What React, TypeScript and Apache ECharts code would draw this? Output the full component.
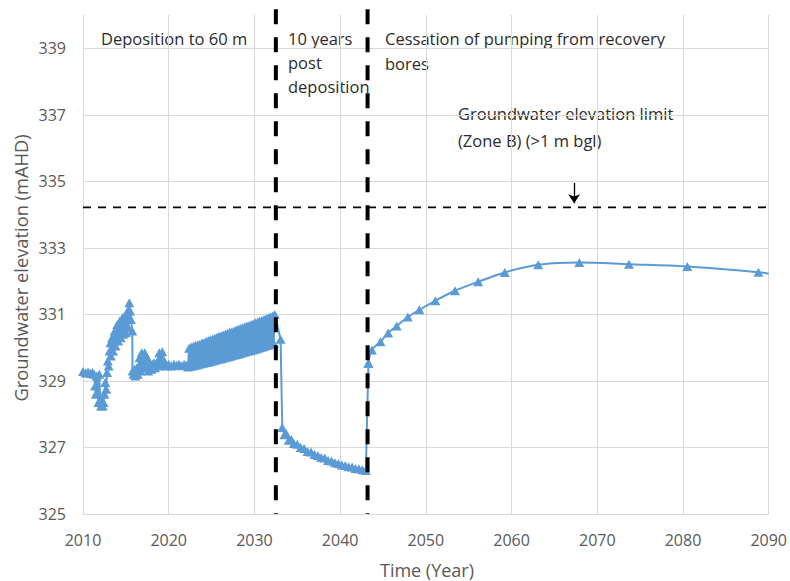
import React, { useEffect, useRef } from "react";
import * as echarts from "echarts";

type Pt = [number, number];

// Groundwater elevation (mAHD) against time (year)
const depositionPhase: Pt[] = [
  [2010.0, 329.28], [2010.3, 329.24], [2010.6, 329.27], [2010.9, 329.22], [2011.1, 329.26], [2011.3, 329.2],
  [2011.4, 328.85], [2011.5, 328.6], [2011.6, 329.15], [2011.7, 328.7], [2011.8, 328.35], [2011.9, 329.2],
  [2012.0, 328.45], [2012.1, 328.25], [2012.2, 328.4], [2012.3, 328.25], [2012.4, 328.35], [2012.5, 328.6],
  [2012.6, 328.95], [2012.7, 328.75], [2012.8, 329.25], [2012.9, 329.6], [2013.0, 329.45], [2013.1, 329.9],
  [2013.2, 330.15], [2013.25, 329.75], [2013.3, 329.95], [2013.4, 330.3], [2013.5, 329.9], [2013.6, 330.1],
  [2013.7, 330.5], [2013.8, 330.05], [2013.9, 330.3], [2014.0, 330.7], [2014.1, 330.2], [2014.2, 330.45],
  [2014.3, 330.8], [2014.4, 330.3], [2014.5, 330.55], [2014.6, 330.9], [2014.7, 330.4], [2014.8, 330.6],
  [2014.9, 330.95], [2015.0, 330.45], [2015.1, 330.7], [2015.2, 331.1], [2015.3, 330.6], [2015.4, 331.35],
  [2015.5, 331.1], [2015.6, 330.85], [2015.75, 330.5],
];

const holdPhase: Pt[] = [
  [2015.78, 329.3], [2015.9, 329.2], [2016.0, 329.35], [2016.1, 329.15], [2016.2, 329.3], [2016.3, 329.4],
  [2016.4, 329.2], [2016.5, 329.45], [2016.6, 329.7], [2016.7, 329.3], [2016.75, 329.5], [2016.85, 329.85],
  [2016.95, 329.4], [2017.05, 329.6], [2017.2, 329.85], [2017.3, 329.4], [2017.4, 329.55], [2017.5, 329.7],
  [2017.6, 329.3], [2017.7, 329.45], [2017.9, 329.5], [2018.0, 329.35], [2018.1, 329.5], [2018.3, 329.55],
  [2018.4, 329.4], [2018.5, 329.5], [2018.7, 329.6], [2018.8, 329.45], [2018.9, 329.85], [2019.0, 329.5],
  [2019.1, 329.7], [2019.25, 329.88], [2019.35, 329.5], [2019.5, 329.6], [2019.7, 329.45], [2020.0, 329.5],
  [2020.3, 329.45], [2020.6, 329.5], [2020.9, 329.47], [2021.2, 329.5], [2021.5, 329.46], [2021.8, 329.5],
  [2022.05, 329.48],
];

const raisePhase: Pt[] = [
  [2022.25, 329.42], [2022.375, 329.98], [2022.5, 329.44], [2022.625, 330.02], [2022.75, 329.45], [2022.875, 330.04],
  [2023.0, 329.47], [2023.125, 330.07], [2023.25, 329.48], [2023.375, 330.09], [2023.5, 329.5], [2023.625, 330.1],
  [2023.75, 329.52], [2023.875, 330.14], [2024.0, 329.53], [2024.125, 330.15], [2024.25, 329.55], [2024.375, 330.19],
  [2024.5, 329.56], [2024.625, 330.21], [2024.75, 329.58], [2024.875, 330.24], [2025.0, 329.6], [2025.125, 330.26],
  [2025.25, 329.61], [2025.375, 330.28], [2025.5, 329.63], [2025.625, 330.31], [2025.75, 329.65], [2025.875, 330.34],
  [2026.0, 329.66], [2026.125, 330.36], [2026.25, 329.68], [2026.375, 330.38], [2026.5, 329.7], [2026.625, 330.41],
  [2026.75, 329.72], [2026.875, 330.43], [2027.0, 329.73], [2027.125, 330.46], [2027.25, 329.75], [2027.375, 330.48],
  [2027.5, 329.77], [2027.625, 330.5], [2027.75, 329.79], [2027.875, 330.53], [2028.0, 329.8], [2028.125, 330.55],
  [2028.25, 329.82], [2028.375, 330.58], [2028.5, 329.84], [2028.625, 330.6], [2028.75, 329.86], [2028.875, 330.63],
  [2029.0, 329.88], [2029.125, 330.65], [2029.25, 329.9], [2029.375, 330.67], [2029.5, 329.91], [2029.625, 330.7],
  [2029.75, 329.93], [2029.875, 330.72], [2030.0, 329.95], [2030.125, 330.75], [2030.25, 329.97], [2030.375, 330.77],
  [2030.5, 329.99], [2030.625, 330.8], [2030.75, 330.01], [2030.875, 330.82], [2031.0, 330.03], [2031.125, 330.85],
  [2031.25, 330.05], [2031.375, 330.87], [2031.5, 330.07], [2031.625, 330.9], [2031.75, 330.09], [2031.875, 330.93],
  [2032.0, 330.11], [2032.125, 330.95], [2032.25, 330.13], [2032.375, 331.0], [2033.05, 330.25],
];

const postDepositionPhase: Pt[] = [
  [2033.25, 327.6], [2033.5, 327.38], [2033.7, 327.42], [2034.0, 327.22], [2034.3, 327.24], [2034.6, 327.12],
  [2035.0, 327.1], [2035.4, 327.0], [2035.8, 326.97], [2036.2, 326.88], [2036.6, 326.86], [2037.0, 326.79],
  [2037.4, 326.76], [2037.8, 326.7], [2038.2, 326.68], [2038.6, 326.61], [2039.0, 326.59], [2039.4, 326.54],
  [2039.8, 326.52], [2040.2, 326.47], [2040.6, 326.46], [2041.0, 326.42], [2041.4, 326.41], [2041.8, 326.37],
  [2042.2, 326.36], [2042.6, 326.33], [2043.0, 326.31],
];

const recoveryPhase: Pt[] = [
  [2043.3, 329.53], [2043.7, 329.93], [2044.7, 330.18], [2045.6, 330.44], [2046.6, 330.65], [2047.9, 330.92],
  [2049.25, 331.14], [2051.1, 331.41], [2053.4, 331.71], [2056.1, 331.98], [2059.2, 332.26], [2063.1, 332.49],
  [2067.9, 332.56], [2073.7, 332.51], [2080.5, 332.44], [2088.8, 332.27],
];
const recoveryEnd: Pt = [2090, 332.22];

const elevationLimit = 334.22;
const endOfDeposition = 2032.5;
const endOfPumping = 2043.2;
const limitArrowYear = 2067.3;
const limitArrowFrom = 334.95;
const limitArrowTo = 334.34;

const xMin = 2010;
const xMax = 2090;
const xStep = 10;
const yMin = 325;
const yMax = 340;

const FONT = '"Open Sans", "Noto Sans", sans-serif';
const BLUE = "#5B9BD5";
const GRID = "#d9d9d9";
const LABEL = "#595959";
const NOTE = "#2b2b2b";

export default function App() {
  const ref = useRef<HTMLDivElement>(null);
  useEffect(() => {
    const chart = echarts.init(ref.current!, null, { renderer: "svg" });
    const dense = [...depositionPhase, ...holdPhase, ...raisePhase, ...postDepositionPhase, recoveryPhase[0]];
    const noteText = (text: string, x: number, y: number) => ({
      type: "text",
      x,
      y,
      silent: true,
      style: { text, fill: NOTE, font: `16.5px ${FONT}`, align: "left", verticalAlign: "middle" },
    });
    const vline = (year: number) => ({
      type: "line",
      data: [[year, 340.17], [year, yMin]],
      symbol: "none",
      clip: false,
      silent: true,
      z: 5,
      lineStyle: { color: "#000", width: 4, type: [15, 13] },
    });
    chart.setOption({
      animation: false,
      grid: { left: 83, right: 18, top: 15, bottom: 67 },
      xAxis: {
        type: "value",
        min: xMin,
        max: xMax,
        interval: xStep,
        axisLine: { show: true, lineStyle: { color: GRID, width: 1 } },
        axisTick: { show: false },
        splitLine: { show: true, lineStyle: { color: GRID, width: 1 } },
        axisLabel: {
          color: LABEL,
          fontFamily: FONT,
          fontSize: 16,
          margin: 18,
          formatter: (v: number) => String(v),
        },
      },
      yAxis: {
        type: "value",
        min: yMin,
        max: yMax,
        interval: 1,
        axisLine: { show: false },
        axisTick: { show: false },
        splitLine: { show: true, lineStyle: { color: [GRID, "rgba(0,0,0,0)"], width: 1 } },
        axisLabel: {
          color: LABEL,
          fontFamily: FONT,
          fontSize: 16,
          margin: 17,
          formatter: (v: number) => (Math.round(v) % 2 === 1 ? String(v) : ""),
        },
      },
      graphic: [
        noteText("Deposition to 60 m", 101, 38),
        noteText("10 years", 288, 38),
        noteText("post", 288, 62),
        noteText("deposition", 288, 86),
        noteText("Cessation of pumping from recovery", 385, 38),
        noteText("bores", 385, 63),
        noteText("Groundwater elevation limit", 458, 113),
        noteText("(Zone B) (>1 m bgl)", 458, 140),
        {
          type: "text",
          x: 20,
          y: 268,
          rotation: Math.PI / 2,
          silent: true,
          style: {
            text: "Groundwater elevation (mAHD)",
            fill: LABEL,
            font: `18.3px ${FONT}`,
            align: "center",
            verticalAlign: "middle",
          },
        },
        {
          type: "text",
          x: 427,
          y: 570,
          silent: true,
          style: { text: "Time (Year)", fill: LABEL, font: `18px ${FONT}`, align: "center", verticalAlign: "middle" },
        },
      ],
      series: [
        {
          type: "line",
          data: dense,
          symbol: "triangle",
          symbolSize: [10, 9],
          lineStyle: { color: BLUE, width: 2 },
          itemStyle: { color: BLUE },
          z: 3,
        },
        {
          type: "line",
          data: [...recoveryPhase, { value: recoveryEnd, symbol: "none" }],
          smooth: 0.35,
          symbol: "triangle",
          symbolSize: [10, 9],
          lineStyle: { color: BLUE, width: 2 },
          itemStyle: { color: BLUE },
          z: 3,
        },
        {
          type: "line",
          data: [[xMin, elevationLimit], [xMax, elevationLimit]],
          symbol: "none",
          silent: true,
          z: 4,
          lineStyle: { color: "#000", width: 1.8, type: [8, 7] },
          markLine: {
            silent: true,
            symbol: ["none", "arrow"],
            symbolSize: [9, 9],
            label: { show: false },
            lineStyle: { color: "#000", width: 1.3, type: "solid" },
            data: [[{ coord: [limitArrowYear, limitArrowFrom] }, { coord: [limitArrowYear, limitArrowTo] }]],
          },
        },
        vline(endOfDeposition),
        vline(endOfPumping),
      ],
    });
    return () => chart.dispose();
  }, []);
  return (
    <div
      ref={ref}
      style={{ position: "absolute", left: 0, top: 0, width: 790, height: 581, background: "#fff" }}
    />
  );
}
